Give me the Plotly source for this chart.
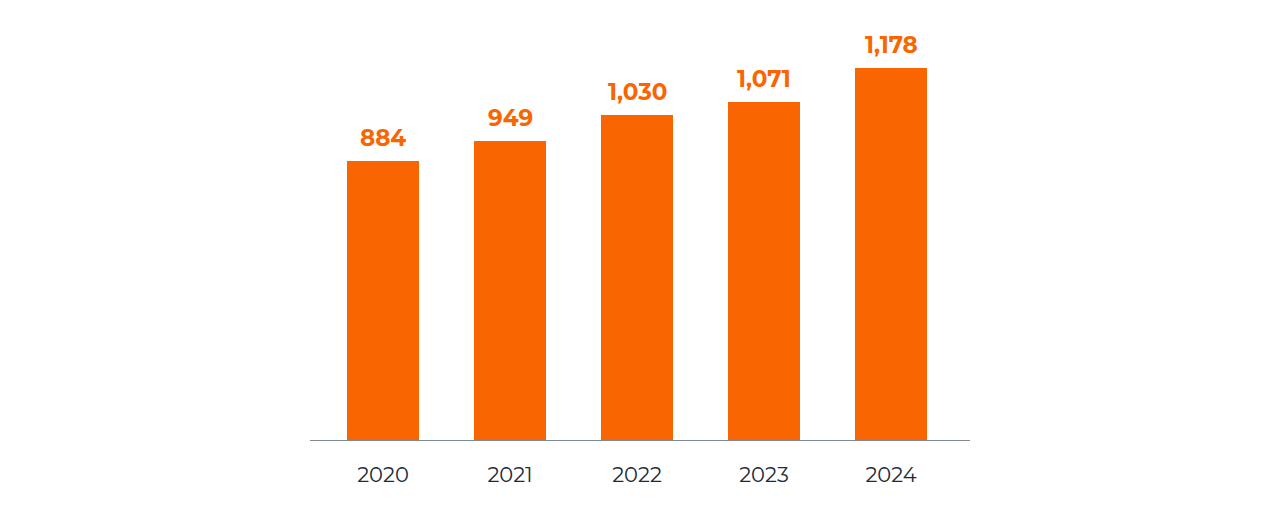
import plotly.graph_objects as go

years = ["2020", "2021", "2022", "2023", "2024"]
values = [884, 949, 1030, 1071, 1178]
labels = ["884", "949", "1,030", "1,071", "1,178"]

x = list(range(len(years)))
FONT = "Montserrat, Lato, 'Open Sans', sans-serif"

fig = go.Figure(go.Bar(
    x=x, y=values, width=0.567,
    marker=dict(color="#F96500", line=dict(width=0)),
    hoverinfo="skip",
))

for xi, v, lab in zip(x, values, labels):
    fig.add_annotation(
        x=xi, y=v, text=f"<b>{lab}</b>", showarrow=False,
        yanchor="bottom", yshift=7,
        font=dict(family=FONT, size=23, color="#F96500"),
    )

fig.update_layout(
    width=1280, height=516,
    margin=dict(l=302, r=318, t=22, b=84),
    paper_bgcolor="white", plot_bgcolor="white",
    showlegend=False,
    bargap=0,
)
fig.update_xaxes(
    range=[-0.575, 4.622],
    tickmode="array", tickvals=x, ticktext=years,
    showgrid=False, zeroline=False,
    showline=True, linecolor="#7F8A94", linewidth=1,
    ticks="", ticklabelstandoff=16,
    tickfont=dict(family=FONT, size=21, color="#1C2B39"),
)
fig.update_yaxes(range=[0, 1300], visible=False, showgrid=False, zeroline=False)

fig.write_html("out.html")
